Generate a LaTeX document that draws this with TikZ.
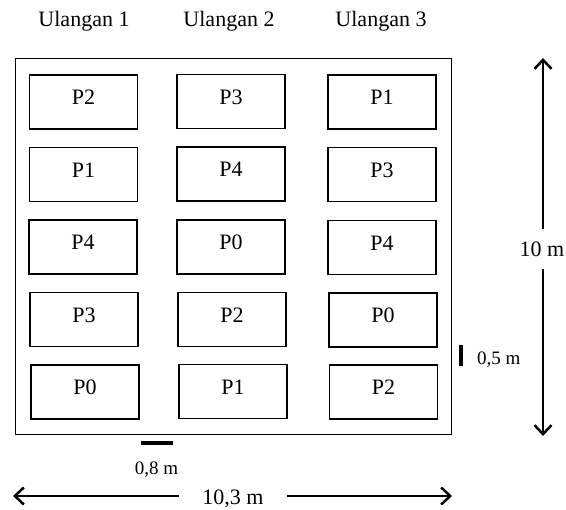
\documentclass[tikz,border=0pt]{standalone}
\usepackage{fontspec}
\setmainfont{Liberation Serif}
\usetikzlibrary{arrows.meta}
\begin{document}
\begin{tikzpicture}[x=1pt,y=-1pt,
  bed/.style={draw, line width=1.4pt, minimum width=108pt, minimum height=54pt, inner sep=0pt, label={[bedlbl]center:#1}},
  bedlbl/.style={font=\fontsize{22}{26}\selectfont, yshift=4.5pt, inner sep=0pt},
  title/.style={font=\fontsize{22}{26}\selectfont, inner sep=0pt, anchor=base},
  dimtxt/.style={font=\fontsize{22}{26}\selectfont, inner sep=0pt, text depth=0pt},
  smalltxt/.style={font=\fontsize{19}{22}\selectfont, inner sep=0pt, text depth=0pt},
  arr/.style={line width=2.5pt, -{Straight Barb[length=9pt,width=17pt,line width=2.5pt]}},
  bar/.style={line width=#1}
]
\useasboundingbox (0,0) rectangle (566,510);

% titles
\node[title] (t1) at (84,27) {Ulangan 1};
\node[title] (t2) at (229,27) {Ulangan 2};
\node[title] (t3) at (381,27) {Ulangan 3};

% field
\node[draw, line width=1.4pt, minimum width=436pt, minimum height=376pt, inner sep=0pt, anchor=north west] (field) at (15,58) {};

% beds: row 1
\node[bed=P2] (b11) at (83.5,102) {};
\node[bed=P3] (b12) at (231,101.5) {};
\node[bed=P1] (b13) at (382,102) {};
% row 2
\node[bed=P1] (b21) at (83.5,174.5) {};
\node[bed=P4] (b22) at (231,174) {};
\node[bed=P3] (b23) at (382,174.5) {};
% row 3
\node[bed=P4] (b31) at (83,247) {};
\node[bed=P0] (b32) at (231,247) {};
\node[bed=P4] (b33) at (382,247.5) {};
% row 4
\node[bed=P3] (b41) at (84,319.5) {};
\node[bed=P2] (b42) at (232,319.5) {};
\node[bed=P0] (b43) at (383,320) {};
% row 5
\node[bed=P0] (b51) at (85,392) {};
\node[bed=P1] (b52) at (233,391.5) {};
\node[bed=P2] (b53) at (383.5,392) {};

% vertical dimension
\coordinate (vt) at (543,58);
\coordinate (vb) at (543,436);
\node[dimtxt, minimum height=40pt] (hlab) at (542,249) {10 m};
\draw[arr] (hlab.north -| vt) -- (vt);
\draw[arr] (hlab.south -| vb) -- (vb);

% horizontal dimension
\coordinate (hl) at (13,496);
\coordinate (hr) at (452,496);
\node[dimtxt, minimum width=108pt] (wlab) at (233,497) {10,3 m};
\draw[arr] (wlab.west |- hl) -- (hl);
\draw[arr] (wlab.east |- hr) -- (hr);

% 0,8 m spacing mark
\coordinate (g1) at (141,443);
\coordinate (g2) at (173,443);
\draw[bar=3.5pt] (g1) -- (g2);
\node[smalltxt] (glab) at (156.5,468) {0,8 m};

% 0,5 m spacing mark
\coordinate (s1) at (461,345);
\coordinate (s2) at (461,366);
\draw[bar=4.5pt] (s1) -- (s2);
\node[smalltxt, anchor=west] (slab) at (477,358) {0,5 m};
\end{tikzpicture}
\end{document}
